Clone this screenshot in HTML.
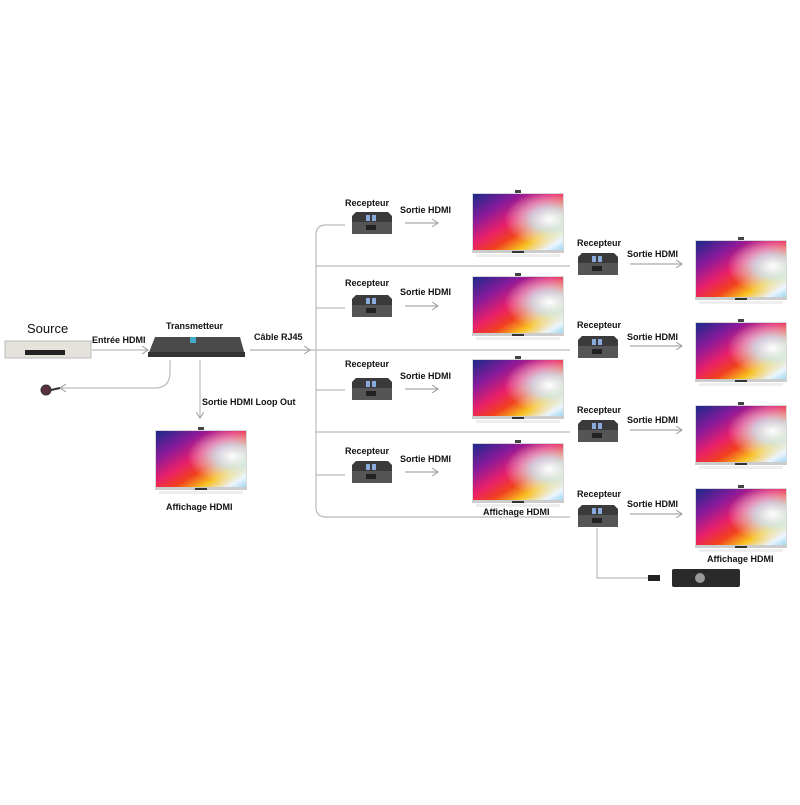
<!DOCTYPE html>
<html><head><meta charset="utf-8"><style>
body{margin:0;background:#fff}
text{font-family:"Liberation Sans",sans-serif;font-size:9px;fill:#111;font-weight:bold}
</style></head><body>
<svg width="800" height="800" viewBox="0 0 800 800" xmlns="http://www.w3.org/2000/svg">
<defs>
<linearGradient id="scr" x1="0" y1="0" x2="1" y2="1">
<stop offset="0" stop-color="#1a2a8a"/><stop offset="0.25" stop-color="#8a1a9a"/>
<stop offset="0.45" stop-color="#e8206a"/><stop offset="0.6" stop-color="#f04020"/>
<stop offset="0.75" stop-color="#f8c020"/><stop offset="0.9" stop-color="#eaf4ff"/><stop offset="1" stop-color="#9fd8f0"/>
</linearGradient>
<radialGradient id="burst" cx="0.85" cy="0.45" r="0.5">
<stop offset="0" stop-color="#fff"/><stop offset="0.4" stop-color="#cfeeff" stop-opacity="0.8"/><stop offset="1" stop-color="#fff" stop-opacity="0"/>
</radialGradient>
<g id="tv">
<rect x="0" y="0" width="92" height="60" fill="#d8d8d8"/>
<rect x="1" y="1" width="90" height="56" fill="url(#scr)"/>
<rect x="1" y="1" width="90" height="56" fill="url(#burst)"/>
<rect x="0" y="57" width="92" height="3" fill="#ccc"/>
<rect x="40" y="58" width="12" height="2" fill="#333"/>
<rect x="43" y="-3" width="6" height="3" fill="#444"/>
<rect x="4" y="61" width="84" height="3" fill="#eee"/>
</g>
<g id="rx">
<polygon points="4,0 36,0 40,4 40,22 0,22 0,4" fill="#3a3a3a"/>
<rect x="0" y="10" width="40" height="12" fill="#555"/>
<rect x="14" y="3" width="4" height="6" fill="#8ad"/><rect x="20" y="3" width="4" height="6" fill="#8ad"/>
<rect x="14" y="13" width="10" height="5" fill="#222"/>
</g>
<marker id="ar" markerWidth="8" markerHeight="8" refX="7" refY="4" orient="auto" markerUnits="userSpaceOnUse">
<path d="M1,0 L7,4 L1,8" fill="none" stroke="#999" stroke-width="1"/></marker>
</defs>
<g stroke="#bbb" stroke-width="1.2" fill="none">
<path d="M345,225 H326 Q316,225 316,235 V507 Q316,517 326,517 H570"/>
<path d="M316,266 H570 M316,308 H345 M316,390 H345 M316,432 H570 M316,475 H345"/>
<path d="M250,350 H570"/>
<path d="M92,350 H148" marker-end="url(#ar)"/>
<path d="M250,350 H310" marker-end="url(#ar)"/>
<path d="M170,360 V372 Q170,388 155,388 H60" marker-end="url(#ar)"/>
<path d="M200,360 V418" marker-end="url(#ar)"/>
<path d="M597,528 V578 H658"/>
</g>
<g stroke="#aaa" stroke-width="1.2" fill="none">
<path d="M405,223 H438" marker-end="url(#ar)"/>
<path d="M405,306 H438" marker-end="url(#ar)"/>
<path d="M405,389 H438" marker-end="url(#ar)"/>
<path d="M405,472 H438" marker-end="url(#ar)"/>
<path d="M630,264 H682" marker-end="url(#ar)"/>
<path d="M630,346 H682" marker-end="url(#ar)"/>
<path d="M630,430 H682" marker-end="url(#ar)"/>
<path d="M630,514 H682" marker-end="url(#ar)"/>
</g>
<use href="#tv" x="472" y="193"/><use href="#tv" x="472" y="276"/><use href="#tv" x="472" y="359"/><use href="#tv" x="472" y="443"/>
<use href="#tv" x="695" y="240"/><use href="#tv" x="695" y="322"/><use href="#tv" x="695" y="405"/><use href="#tv" x="695" y="488"/>
<use href="#tv" x="155" y="430"/>
<use href="#rx" x="352" y="212"/><use href="#rx" x="352" y="295"/><use href="#rx" x="352" y="378"/><use href="#rx" x="352" y="461"/>
<use href="#rx" x="578" y="253"/><use href="#rx" x="578" y="336"/><use href="#rx" x="578" y="420"/><use href="#rx" x="578" y="505"/>
<rect x="5" y="341" width="86" height="17" fill="#e4e2da" stroke="#bbb"/>
<rect x="25" y="350" width="40" height="5" fill="#222"/>
<polygon points="155,337 240,337 245,355 148,355" fill="#4a4a4a"/>
<rect x="148" y="352" width="97" height="5" fill="#333"/>
<rect x="190" y="337" width="6" height="6" fill="#4ac"/>
<circle cx="46" cy="390" r="5" fill="#5a3040" stroke="#333"/>
<line x1="51" y1="390" x2="60" y2="388" stroke="#333" stroke-width="2"/>
<rect x="672" y="569" width="68" height="18" rx="2" fill="#2a2a2a"/>
<circle cx="700" cy="578" r="5" fill="#999"/>
<rect x="648" y="575" width="12" height="6" fill="#222"/>
<text x="27" y="333" style="font-size:13px;font-weight:normal">Source</text>
<text x="92" y="343">Entrée HDMI</text>
<text x="166" y="329">Transmetteur</text>
<text x="254" y="340">Câble RJ45</text>
<text x="202" y="405">Sortie HDMI Loop Out</text>
<text x="166" y="510">Affichage HDMI</text>
<text x="345" y="206">Recepteur</text><text x="400" y="213">Sortie HDMI</text>
<text x="345" y="286">Recepteur</text><text x="400" y="295">Sortie HDMI</text>
<text x="345" y="367">Recepteur</text><text x="400" y="379">Sortie HDMI</text>
<text x="345" y="454">Recepteur</text><text x="400" y="462">Sortie HDMI</text>
<text x="483" y="515">Affichage HDMI</text>
<text x="577" y="246">Recepteur</text><text x="627" y="257">Sortie HDMI</text>
<text x="577" y="328">Recepteur</text><text x="627" y="340">Sortie HDMI</text>
<text x="577" y="413">Recepteur</text><text x="627" y="423">Sortie HDMI</text>
<text x="577" y="497">Recepteur</text><text x="627" y="507">Sortie HDMI</text>
<text x="707" y="562">Affichage HDMI</text>
</svg>
</body></html>
